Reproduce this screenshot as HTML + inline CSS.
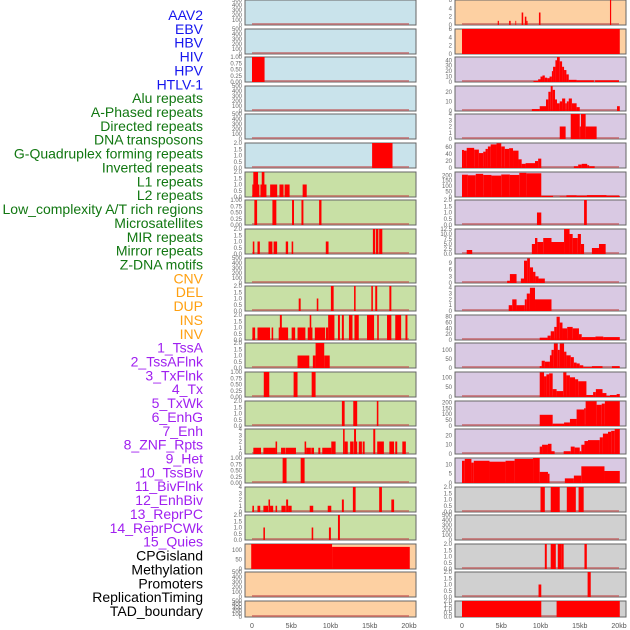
<!DOCTYPE html>
<html><head><meta charset="utf-8"><style>
html,body{margin:0;padding:0;background:#fff;}
svg{display:block;font-family:"Liberation Sans",sans-serif;}
</style></head><body>
<svg id="chart" width="630" height="630" viewBox="0 0 630 630"></svg>
<script>
const labels = ["AAV2","EBV","HBV","HIV","HPV","HTLV-1","Alu repeats","A-Phased repeats","Directed repeats","DNA transposons","G-Quadruplex forming repeats","Inverted repeats","L1 repeats","L2 repeats","Low_complexity A/T rich regions","Microsatellites","MIR repeats","Mirror repeats","Z-DNA motifs","CNV","DEL","DUP","INS","INV","1_TssA","2_TssAFlnk","3_TxFlnk","4_Tx","5_TxWk","6_EnhG","7_Enh","8_ZNF_Rpts","9_Het","10_TssBiv","11_BivFlnk","12_EnhBiv","13_ReprPC","14_ReprPCWk","15_Quies","CPGisland","Methylation","Promoters","ReplicationTiming","TAD_boundary"];
const labelGroups = [6,13,5,15,5];
const groupColors = ["#1515ee","#117711","#ffa010","#a020f0","#000000"];
const xTicks = [0,5,10,15,20];
const xTickLabels = ["0","5kb","10kb","15kb","20kb"];
const T500=[0,100,200,300,400,500], T2=[0,0.5,1,1.5,2], T1=[0,0.25,0.5,0.75,1], T4=[0,1,2,3,4];
const leftBg = ["b","b","b","b","b","b","g","g","g","g","g","g","g","g","g","g","g","g","g","o","o","o"];
const rightBg = ["o","o","l","l","l","l","l","l","l","l","l","l","l","l","l","l","l","r","r","r","r","r"];
const leftMax = [500,500,1,500,500,2,2,1,2,500,2,2,2,1,2,4,1,4,2,130,500,500];
const rightMax = [6,6,46,26,4,72,230,2,12.5,11.2,4.3,86,138,127,212,27,13.5,2,500,2,2,2];
const leftTicks = [T500,T500,T1,T500,T500,T2,T2,T1,T2,T500,T2,T2,T2,T1,T2,T4,T1,T4,T2,[0,50,100],T500,T500];
const rightTicks = [[0,2,4,6],[0,2,4,6],[0,10,20,30,40],[0,10,20],T4,[0,20,40,60],[0,50,100,150,200],T2,[0,2.5,5,7.5,10,12.5],[0,3,6,9],T4,[0,20,40,60,80],[0,50,100],[0,50,100],[0,50,100,150,200],[0,10,20],[0,5,10],T2,T500,T2,T2,T2];
const leftSegs = [
 [],[],
 [[0,1.6,1]],
 [],[],
 [[15.3,17.9,2]],
 [[0.04,0.94,1],[1.07,1.84,1],[2.31,3.21,1],[3.5,4.02,1],[4.15,4.79,1],[6.45,6.97,1],[0.17,0.77,2],[1.24,1.58,2]],
 [[0.3,0.65,1],[2.6,3.1,1],[5.1,5.35,1],[6.3,6.55,1],[8.55,8.85,1]],
 [[0.1,0.3,1],[0.7,1.0,1],[2.1,2.6,1],[2.75,3.2,1],[4.3,4.6,1],[5.05,5.25,1],[9.4,9.75,1],[15.4,15.7,2],[15.8,16.1,2],[16.2,16.6,2]],
 [],
 [[5.95,6.2,1],[8.25,8.45,1],[10.05,10.4,2],[13.0,13.2,2],[15.2,15.4,2],[15.7,15.95,2],[17.5,17.75,2]],
 [[0.05,0.4,1],[0.7,2.3,1],[2.5,2.7,1],[3.4,4.6,1],[5.05,5.5,1],[5.8,6.8,1],[7.1,7.7,1],[8.0,9.3,1],[9.4,9.7,1],[3.55,3.8,2],[7.35,7.55,2],[9.7,10.5,2],[10.95,11.2,2],[11.45,11.7,2],[12.35,12.8,2],[13.05,13.6,2],[14.65,15.55,2],[15.95,16.15,2],[17.2,17.75,2],[18.25,19.0,2],[19.55,19.8,2]],
 [[5.8,7.3,1],[7.75,8.1,1],[9.2,9.9,1],[8.1,9.2,2]],
 [[1.5,2.2,1],[5.3,5.8,1],[7.6,8.1,1]],
 [[11.45,11.8,2],[12.9,13.4,2],[15.9,16.1,2]],
 [[0.17,1.15,1],[1.45,2.1,1],[2.1,3.0,1],[3.0,3.2,2],[3.7,4.25,1],[4.3,5.6,1],[6.7,6.9,2],[6.9,7.5,1],[7.55,7.9,1],[8.45,8.7,1],[8.95,10.1,1],[10.1,10.65,2],[11.6,11.8,4],[11.8,12.2,2],[12.5,12.95,2],[13.0,13.25,4],[13.25,13.4,2],[13.6,14.0,2],[14.1,14.35,2],[15.45,15.7,4],[15.95,16.8,2],[17.5,18.1,2],[18.25,18.5,2],[19.15,19.6,2]],
 [[3.9,4.4,1],[6.2,6.7,1]],
 [[0.05,0.25,1],[0.7,1.05,1],[1.45,2.05,1],[2.1,2.3,2],[2.3,2.7,1],[3.0,3.2,1],[3.75,4.3,1],[4.35,4.6,2],[4.6,5.05,1],[7.35,7.8,1],[9.65,10.1,1],[11.45,11.7,2],[12.85,13.2,4],[16.2,16.55,4],[17.75,18.1,2]],
 [[1.45,1.65,1],[7.6,7.8,1],[9.8,10.05,1],[10.95,11.2,2]],
 [[-0.1,10.2,130],[10.2,20.1,115]],
 [],[]
];
const rightSegs = [
 [[4.55,4.7,1],[6.0,6.2,1],[6.8,6.9,1],[7.6,7.8,3],[8.0,8.2,2],[8.2,8.35,1],[9.8,10.0,3],[18.85,19.0,6]],
 [[0,20.1,6]],
 [[9.1,9.7,2],[9.7,10.0,5],[10.0,10.25,10],[10.25,10.55,12],[10.55,10.85,8],[10.85,11.15,7],[11.15,11.45,10],[11.45,11.6,20],[11.6,11.9,28],[11.9,12.1,40],[12.1,12.45,46],[12.45,12.75,38],[12.75,13.0,28],[13.0,13.3,22],[13.3,13.6,14],[13.6,14.6,4],[14.6,16.8,3],[16.95,20,3]],
 [[8.9,9.9,2],[9.9,10.7,5],[10.7,11.0,12],[11.0,11.3,20],[11.3,11.55,26],[11.55,11.85,22],[11.85,12.1,12],[12.1,12.45,8],[12.45,12.75,10],[12.75,13.15,13],[13.15,13.35,8],[13.35,13.6,10],[13.6,14.0,13],[14.0,14.6,8],[14.6,15.0,4],[19.75,20.1,5]],
 [[12.45,13.2,2],[13.85,15.0,4],[15.0,15.15,2],[15.15,15.75,4],[15.75,17.15,2]],
 [[0,0.25,52],[0.25,0.6,50],[0.6,1.55,58],[1.55,2.15,53],[2.15,2.7,43],[2.7,3.0,47],[3.0,3.3,55],[3.3,3.65,62],[3.65,4.4,68],[4.4,5.0,71],[5.0,5.45,62],[5.45,6.0,55],[6.0,6.5,57],[6.5,7.2,50],[7.2,7.6,25],[7.6,8.1,12],[8.1,9.3,14],[9.3,9.7,20],[9.7,10.1,27],[14.25,14.8,5],[14.8,15.25,10],[15.25,15.95,12],[15.95,16.2,8],[16.2,16.9,5]],
 [[0,0.75,205],[0.75,1.75,200],[1.75,2.7,213],[2.7,3.75,203],[3.75,5.0,197],[5.0,6.1,207],[6.1,7.3,203],[7.3,8.2,222],[8.2,10.1,218],[10.1,11.6,10],[12.45,13.3,5],[13.3,14.6,15],[14.6,15.9,12],[15.9,18.4,17],[18.4,20.1,12]],
 [[9.55,10.1,1],[15.55,15.9,2]],
 [[0.6,1.3,2],[8.9,9.3,5],[9.3,9.6,8],[9.6,10.35,6],[10.35,11.4,8],[11.4,13.0,6],[13.0,13.7,12.5],[13.7,14.1,10],[14.1,14.75,8],[14.75,15.15,10],[15.15,15.55,5],[16.55,17.45,3],[17.45,18.3,5]],
 [[5.75,6.1,1],[6.1,6.95,4],[7.5,7.9,2],[7.9,8.3,10],[8.3,8.65,11],[8.65,9.05,7],[9.05,9.35,5],[9.35,9.75,3],[9.75,10.55,2]],
 [[5.95,6.4,1],[6.4,6.95,2],[6.95,8.0,1],[8.0,8.25,2],[8.25,8.65,3],[8.65,9.3,4],[9.3,11.4,2]],
 [[9.9,10.9,8],[10.9,11.3,15],[11.3,11.75,30],[11.75,12.05,45],[12.05,12.45,80],[12.45,12.8,60],[12.8,13.4,40],[13.4,14.1,45],[14.1,14.9,40],[14.9,15.25,20],[15.25,17.0,10],[17.0,18.0,12],[18.0,20.1,10]],
 [[9.9,10.15,10],[10.15,10.55,40],[10.55,11.2,35],[11.2,11.4,70],[11.4,11.7,100],[11.7,12.2,135],[12.2,12.45,100],[12.45,13.0,135],[13.0,13.3,90],[13.3,13.85,70],[13.85,14.25,60],[14.25,14.6,30],[14.6,15.0,25],[15.0,15.45,15],[15.45,16.55,5],[16.55,17.9,10],[19.1,20.1,10]],
 [[9.9,10.45,125],[10.45,10.75,105],[10.75,11.1,115],[11.1,11.55,120],[11.55,12.05,40],[12.05,12.9,30],[12.9,13.3,125],[13.3,13.75,110],[13.75,14.4,100],[14.4,14.8,90],[14.8,15.85,80],[15.85,16.7,10],[16.7,17.05,25],[17.05,17.9,40],[17.9,18.4,20],[18.4,18.85,5],[18.85,19.7,10],[19.7,20.1,15]],
 [[9.9,11.55,95],[11.55,13.0,20],[13.0,13.75,30],[13.75,14.6,60],[14.6,15.55,140],[15.55,15.75,150],[15.75,17.15,210],[17.15,17.8,180],[17.8,18.2,190],[18.2,20.1,210]],
 [[9.9,10.2,8],[10.2,10.95,10],[10.95,11.4,11],[11.4,11.8,3],[12.95,13.85,3],[13.85,14.35,8],[14.35,15.0,7],[15.0,15.2,3],[15.2,15.6,10],[15.6,16.05,14],[16.05,17.55,15],[17.55,17.95,18],[17.95,18.6,22],[18.6,19.0,24],[19.0,19.45,25],[19.45,20.1,27]],
 [[0,0.35,12],[0.35,1.2,13],[1.2,1.5,11],[1.5,3.5,12],[3.5,5.55,11.5],[5.55,6.7,12],[6.7,9.05,13],[9.05,9.9,13.5],[9.9,10.95,6],[10.95,11.15,5],[13.1,14.25,2.5],[14.25,15.2,4],[15.2,18.15,9],[18.15,20.1,6.5]],
 [[10.0,10.55,2],[11.3,12.45,2],[13.35,14.5,2],[14.85,15.5,2]],
 [],
 [[10.55,10.8,2],[11.3,11.95,2],[12.2,12.65,2],[12.65,12.95,2],[15.6,15.9,2]],
 [[9.75,10.1,1],[16.0,16.4,2]],
 [[0,10.1,2],[12.05,20.1,2]]
];
const NS="http://www.w3.org/2000/svg";
const svg=document.getElementById('chart');
const bgColors={b:"#c9e3eb",g:"#c8e0a5",o:"#fdd0a2",l:"#d9c9e3",r:"#d0d0d0"};
function mk(tag,attrs,parent){const e=document.createElementNS(NS,tag);for(const k in attrs)e.setAttribute(k,attrs[k]);(parent||svg).appendChild(e);return e;}
function fmt(t,ticks){const hasFrac=ticks.some(v=>v%1!==0);if(!hasFrac)return String(t);const q=ticks.some(v=>Math.abs(v*4%1)<1e-9&&v*2%1!==0&&ticks.length>4&&ticks[1]===0.25);if(ticks[1]===0.25)return t.toFixed(2);return t.toFixed(1);}
// labels
let li=0;
labelGroups.forEach((n,g)=>{for(let k=0;k<n;k++){const t=mk('text',{x:203,y:15+li*13.86+5,'text-anchor':'end','font-size':14,fill:groupColors[g]});


t.textContent=labels[li];li++;}});
function panel(col,i,bgKey,ymax,ticks,segs){
 const px=col===0?245:455, pw=171;
 const top=Math.round(i*28.62), ph=(i===21)?16:25;
 const g=mk('g',{});
 
 
 mk('rect',{x:px,y:top,width:pw,height:ph,fill:bgColors[bgKey],stroke:'#666',"stroke-width":1},g);
 const xs=kb=>px+7+kb*(157/20);
 const ys=v=>top+ph-(v/ymax)*ph;
 mk('line',{x1:xs(0),x2:xs(20),y1:top+ph-1,y2:top+ph-1,stroke:'#c05050','stroke-opacity':0.6,'stroke-width':2},g);
 segs.forEach(s=>{const r=mk('rect',{x:xs(s[0]),y:ys(s[2]),width:Math.max(0.8,xs(s[1])-xs(s[0])),height:top+ph-ys(s[2]),fill:'#ff0000'},g);
  
  });
 ticks.forEach(t=>{const tx=mk('text',{x:px-3,y:ys(t)+2,'text-anchor':'end','font-size':6,fill:'#666'},g);
  
  
  tx.textContent=fmt(t,ticks);});
}
for(let i=0;i<22;i++){panel(0,i,leftBg[i],leftMax[i],leftTicks[i],leftSegs[i]);panel(1,i,rightBg[i],rightMax[i],rightTicks[i],rightSegs[i]);}
[245,455].forEach(px=>{xTicks.forEach((v,k)=>{const t=mk('text',{x:px+7+v*(157/20),y:628,'text-anchor':'middle','font-size':7,fill:'#555'});
 
 
 t.textContent=xTickLabels[k];});});
</script>
</body></html>
